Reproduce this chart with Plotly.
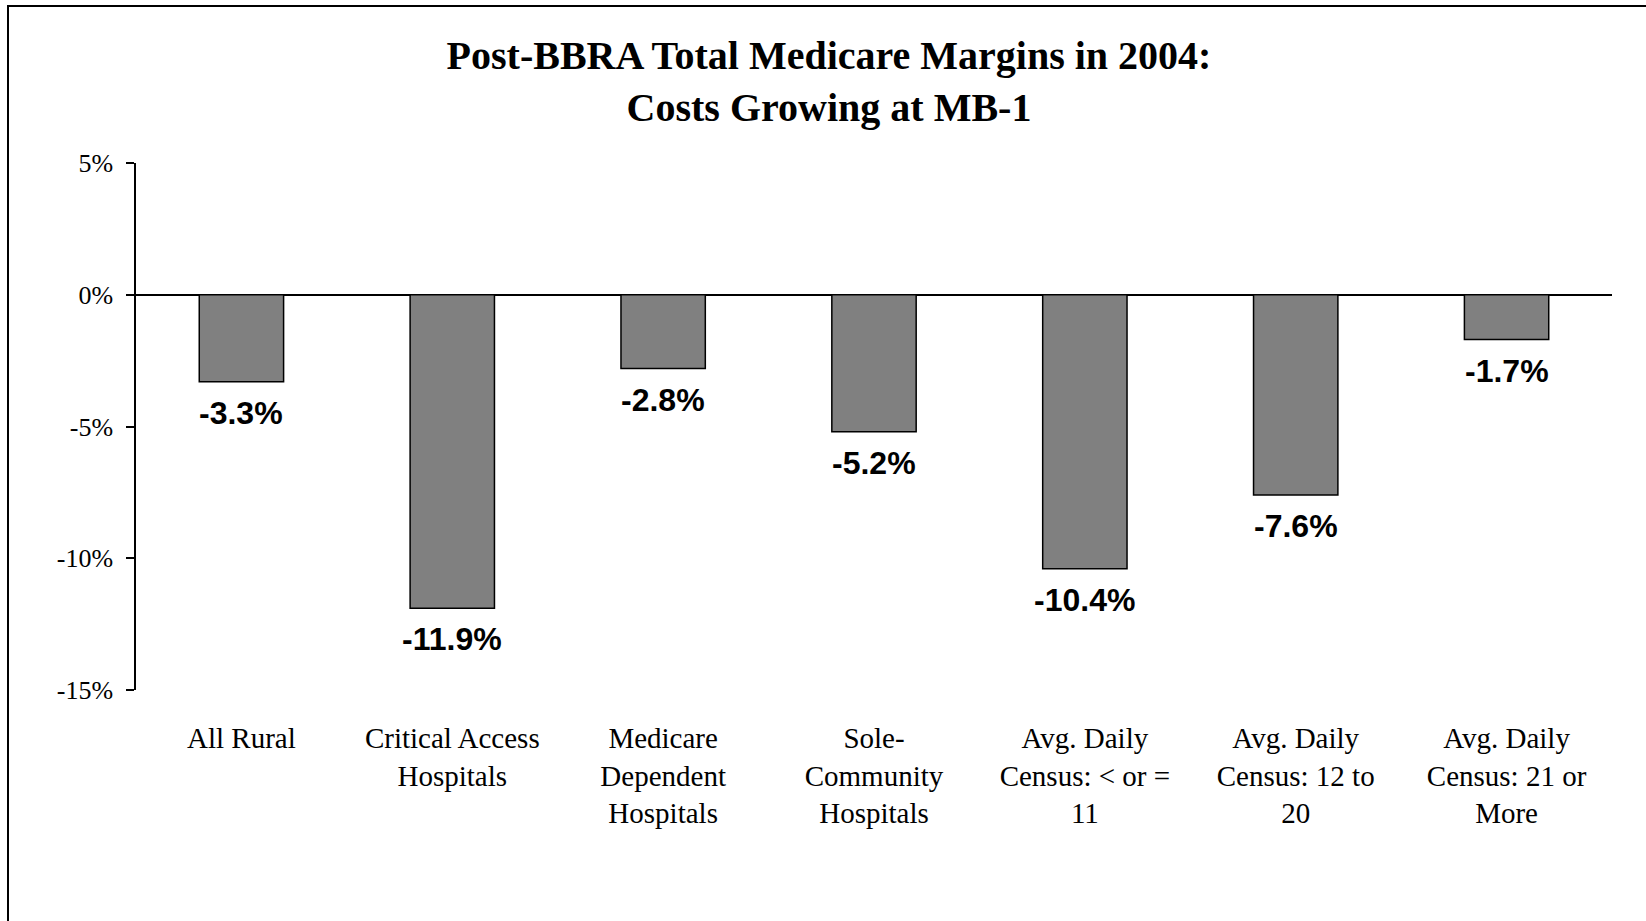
import plotly.graph_objects as go

categories = ["All Rural", "Critical Access Hospitals", "Medicare Dependent Hospitals",
              "Sole-Community Hospitals", "Avg. Daily Census: < or = 11",
              "Avg. Daily Census: 12 to 20", "Avg. Daily Census: 21 or More"]
tick_labels = ["All Rural", "Critical Access<br>Hospitals", "Medicare<br>Dependent<br>Hospitals",
               "Sole-<br>Community<br>Hospitals", "Avg. Daily<br>Census: &lt; or =<br>11",
               "Avg. Daily<br>Census: 12 to<br>20", "Avg. Daily<br>Census: 21 or<br>More"]
margins = [-3.3, -11.9, -2.8, -5.2, -10.4, -7.6, -1.7]
value_labels = ["-3.3%", "-11.9%", "-2.8%", "-5.2%", "-10.4%", "-7.6%", "-1.7%"]
y_ticks = [5, 0, -5, -10, -15]
y_tick_labels = ["5%", "0%", "-5%", "-10%", "-15%"]

W, H = 1646, 921
L, T = 136, 163
PW, PH = 1476, 527

fig = go.Figure()
fig.add_trace(go.Bar(
    x=categories, y=margins, width=0.4,
    marker=dict(color="#808080", line=dict(color="black", width=1.5)),
    hoverinfo="skip",
))

for c, v, t in zip(categories, margins, value_labels):
    fig.add_annotation(x=c, y=v, text=t, showarrow=False, yanchor="top", yshift=-11,
                       font=dict(family="Liberation Sans, Arial", size=32, color="black", weight="bold"),
                       xref="x", yref="y")

fig.add_shape(type="rect", xref="paper", yref="paper",
              x0=(8 - L) / PW, x1=1.2, y0=-0.6, y1=1 + (T - 6) / PH,
              line=dict(color="black", width=2), fillcolor="rgba(0,0,0,0)", layer="below")

fig.update_layout(
    width=W, height=H,
    margin=dict(l=L, r=W - L - PW, t=T, b=H - T - PH, autoexpand=False),
    paper_bgcolor="white", plot_bgcolor="white",
    showlegend=False,
    title=dict(text="Post-BBRA Total Medicare Margins in 2004:<br>Costs Growing at MB-1",
               font=dict(family="Liberation Serif, Times New Roman", size=40, color="black", weight="bold"),
               x=(829 - L) / PW, xref="paper", xanchor="center",
               y=1 - 69 / H, yref="container", yanchor="top"),
    font=dict(family="Liberation Serif, Times New Roman", color="black"),
)
fig.update_xaxes(
    tickvals=categories, ticktext=tick_labels, showline=False, showgrid=False,
    ticks="outside", ticklen=22, tickcolor="rgba(0,0,0,0)",
    tickfont=dict(family="Liberation Serif, Times New Roman", size=29, color="black"),
    tickangle=0, fixedrange=True, automargin=False,
)
fig.update_yaxes(
    range=[-15, 5], tickvals=y_ticks, ticktext=y_tick_labels,
    showline=True, linecolor="black", linewidth=1.5,
    ticks="outside", ticklen=8, tickcolor="black", tickwidth=1.5,
    showgrid=False, zeroline=True, zerolinecolor="black", zerolinewidth=1.5,
    tickfont=dict(family="Liberation Serif, Times New Roman", size=26, color="black"),
    ticklabelstandoff=8, fixedrange=True, automargin=False,
)

fig.write_html("out.html", config={"displayModeBar": False},
               post_script="document.body.style.margin='0';document.body.style.overflow='hidden';")
